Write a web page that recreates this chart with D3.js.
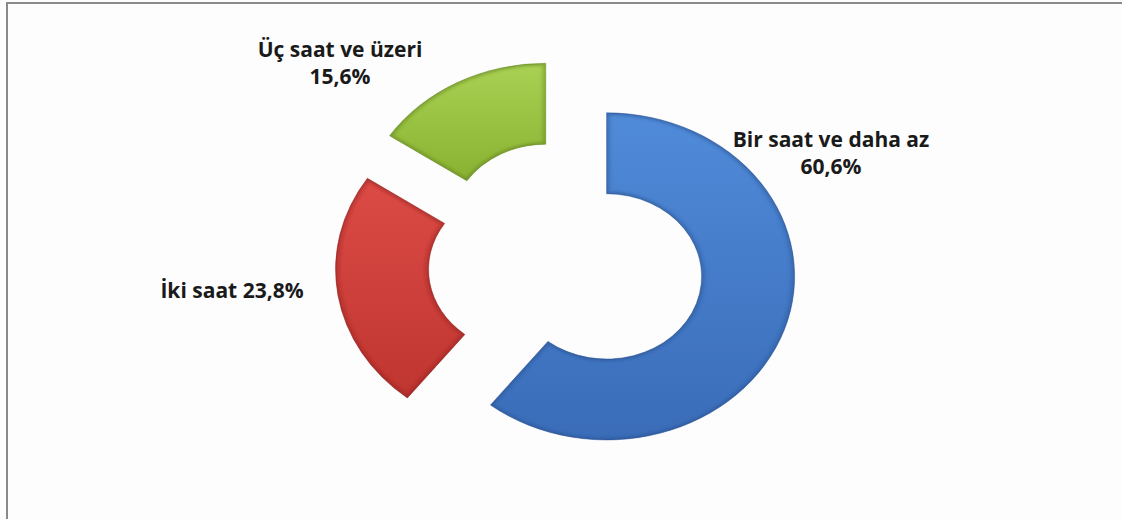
<!DOCTYPE html>
<html>
<head>
<meta charset="utf-8">
<script src="https://cdn.jsdelivr.net/npm/d3@7"></script>
<style>
  html, body { margin: 0; padding: 0; background: #fdfdfd; }
  svg { display: block; }
</style>
</head>
<body>
<div id="screen"></div>
<script>
// Veriler
const categories = ['Bir saat ve daha az', 'İki saat', 'Üç saat ve üzeri']
const values = [60.6, 23.8, 15.6]
const valueLabels = ['60,6%', '23,8%', '15,6%']

const colorsTop = ['#508bd9', '#dc4b46', '#a9d153']
const colorsBottom = ['#3a6cb8', '#bf3530', '#89b232']
const edgeColors = ['#264f8c', '#8a1f1c', '#5f7f1c']

const width = 1122
const height = 519
const center = { x: 566, y: 263 }
const outerRadius = 188
const innerRadius = 95
const squash = 0.87 // le graphique est un peu écrasé verticalement
const explode = { x: 43, y: 41 }

const container = d3.select('#screen')
container.selectAll('*').remove()
const svg = container.append('svg')
  .attr('width', width)
  .attr('height', height)

// cadre
svg.append('path')
  .attr('d', `M7,${height + 5} L7,3 L${width + 5},3`)
  .attr('fill', 'none')
  .attr('stroke', '#8a8a8a')
  .attr('stroke-width', 2)

const data = categories.map((c, i) => ({ category: c, value: values[i], label: valueLabels[i], i }))

const pie = d3.pie()
  .sort(null)
  .value(d => d.value)
  .startAngle(0)
  .endAngle(2 * Math.PI)

const arc = d3.arc()
  .innerRadius(innerRadius)
  .outerRadius(outerRadius)

const defs = svg.append('defs')
data.forEach((d, i) => {
  const g = defs.append('linearGradient')
    .attr('id', `grad-${i}`)
    .attr('x1', '0%').attr('y1', '0%')
    .attr('x2', '0%').attr('y2', '100%')
  g.append('stop').attr('offset', '0%').attr('stop-color', colorsTop[i])
  g.append('stop').attr('offset', '100%').attr('stop-color', colorsBottom[i])
})
defs.append('filter')
  .attr('id', 'soft')
  .append('feGaussianBlur')
  .attr('stdDeviation', 2)

const arcs = pie(data)

const slices = svg.selectAll('g.slice')
  .data(arcs)
  .join('g')
  .attr('class', 'slice')
  .attr('transform', d => {
    const mid = (d.startAngle + d.endAngle) / 2
    const tx = center.x + explode.x * Math.sin(mid)
    const ty = center.y - explode.y * Math.cos(mid)
    return `translate(${tx},${ty}) scale(1,${squash})`
  })

slices.each(function (d, i) {
  const g = d3.select(this)
  defs.append('clipPath')
    .attr('id', `clip-${i}`)
    .append('path')
    .attr('d', arc(d))
  g.append('path')
    .attr('d', arc(d))
    .attr('fill', `url(#grad-${i})`)
  // effet de biseau
  g.append('g')
    .attr('clip-path', `url(#clip-${i})`)
    .append('path')
    .attr('d', arc(d))
    .attr('fill', 'none')
    .attr('stroke', edgeColors[i])
    .attr('stroke-width', 5)
    .attr('stroke-opacity', 0.55)
    .attr('filter', 'url(#soft)')
  g.append('path')
    .attr('d', arc(d))
    .attr('fill', 'none')
    .attr('stroke', edgeColors[i])
    .attr('stroke-width', 0.8)
    .attr('stroke-opacity', 0.6)
})

// étiquettes (position relative au centre du graphique)
const labelPos = [
  { dx: 265, dy: -116, lines: d => [d.category, d.label] },
  { dx: -334, dy: 35, lines: d => [`${d.category} ${d.label}`] },
  { dx: -226, dy: -206, lines: d => [d.category, d.label] }
]

svg.selectAll('text.lbl')
  .data(data)
  .join('text')
  .attr('class', 'lbl')
  .attr('x', (d, i) => center.x + labelPos[i].dx)
  .attr('y', (d, i) => center.y + labelPos[i].dy)
  .attr('text-anchor', 'middle')
  .attr('font-family', "'Open Sans', sans-serif")
  .attr('font-weight', 'bold')
  .attr('font-size', '21px')
  .attr('fill', '#1a1a1a')
  .each(function (d, i) {
    const t = d3.select(this)
    labelPos[i].lines(d).forEach((line, k) => {
      t.append('tspan')
        .attr('x', center.x + labelPos[i].dx)
        .attr('dy', k === 0 ? 0 : 27)
        .text(line)
    })
  })
</script>
</body>
</html>
